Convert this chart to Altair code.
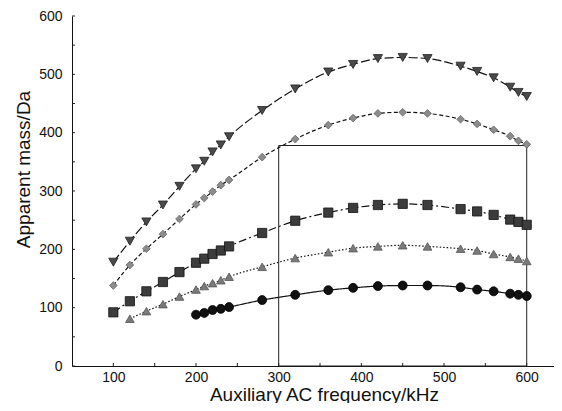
import altair as alt
import pandas as pd

# Auxiliary AC frequency (kHz)
freq_all = [100, 120, 140, 160, 180, 200, 210, 220, 230, 240, 280, 320, 360,
            390, 420, 450, 480, 520, 540, 560, 580, 590, 600]

tri_down = [178, 214, 247, 276, 308, 338, 351, 367, 379, 393, 438, 475, 504,
            517, 527, 529, 527, 514, 505, 494, 478, 469, 462]
diamond = [138, 173, 201, 226, 252, 277, 288, 299, 310, 319, 358, 389, 413,
           425, 433, 435, 433, 423, 415, 405, 394, 386, 380]
square = [92, 111, 128, 144, 161, 177, 184, 192, 198, 205, 228, 249, 263,
          271, 276, 278, 276, 269, 265, 259, 251, 247, 242]
freq_tri_up = freq_all[1:]
tri_up = [81, 94, 106, 119, 131, 137, 142, 147, 153, 170, 185, 195,
          202, 205, 207, 205, 201, 198, 192, 187, 184, 180]
freq_circle = freq_all[5:]
circle = [88, 91, 96, 98, 101, 113, 122, 130, 134, 137, 138, 138, 135, 131,
          128, 124, 122, 120]

box_x = [300, 600]
box_y = [0, 378]

x_ticks = [100, 200, 300, 400, 500, 600]
x_minor = [150, 250, 350, 450, 550]
y_ticks = [0, 100, 200, 300, 400, 500, 600]
y_minor = [50, 150, 250, 350, 450, 550]

FONT = "Liberation Sans"
xs = alt.Scale(domain=[50, 633], nice=False, zero=False)
ys = alt.Scale(domain=[0, 600], nice=False)

series = [
    (freq_all, tri_down, "triangle-down", "#4a4a4a", "#222222", [9, 3], 85),
    (freq_all, diamond, "diamond", "#8c8c8c", "#666666", [4, 2.5], 60),
    (freq_all, square, "square", "#3c3c3c", "#111111", [8, 3, 2, 3], 85),
    (freq_tri_up, tri_up, "triangle-up", "#7a7a7a", "#555555", [1.5, 2], 75),
    (freq_circle, circle, "circle", "#111111", "#000000", [1, 0], 80),
]

layers = []

box_df = pd.DataFrame({"x": [box_x[0]], "x2": [box_x[1]], "y": [box_y[0]], "y2": [box_y[1]]})
layers.append(
    alt.Chart(box_df).mark_rect(fill=None, stroke="#222222", strokeWidth=1).encode(
        x=alt.X("x:Q", scale=xs, axis=alt.Axis(
            title="Auxiliary AC frequency/kHz", values=x_ticks, tickSize=0,
            labelPadding=4, titleX=252, titleY=34, titleBaseline="alphabetic",
            titleAnchor="start", titleAlign="center")),
        x2="x2:Q",
        y=alt.Y("y:Q", scale=ys, axis=alt.Axis(
            title="Apparent mass/Da", values=y_ticks, tickSize=0,
            labelPadding=10, titleX=-43, titleY=153, titleBaseline="alphabetic",
            titleAngle=-90, titleAlign="center")),
        y2="y2:Q",
    )
)

for fx, fy, shape, fill, stroke, dash, size in series:
    df = pd.DataFrame({"f": fx, "m": fy})
    base = alt.Chart(df).encode(x=alt.X("f:Q", scale=xs), y=alt.Y("m:Q", scale=ys))
    layers.append(base.mark_line(color="#111111", strokeWidth=1.2,
                                 strokeDash=dash, interpolate="monotone"))
    layers.append(base.mark_point(shape=shape, filled=True, fill=fill,
                                  stroke=stroke, strokeWidth=0.8, opacity=1,
                                  size=size))

# inward tick marks
ytk = pd.DataFrame({"v": y_ticks + y_minor})
layers.append(alt.Chart(ytk).mark_rule(color="#222222", strokeWidth=1).encode(
    y=alt.Y("v:Q", scale=ys), x=alt.value(0), x2=alt.value(3)))
xtk = pd.DataFrame({"v": x_ticks + x_minor})
layers.append(alt.Chart(xtk).mark_rule(color="#222222", strokeWidth=1).encode(
    x=alt.X("v:Q", scale=xs), y=alt.value(350), y2=alt.value(347)))

chart = alt.layer(*layers).properties(
    width=482, height=350,
    autosize=alt.AutoSizeParams(type="none"),
    padding={"left": 64, "top": 8, "right": 0, "bottom": 37},
).configure_view(stroke=None).configure_axis(
    grid=False, domainColor="#111111", domainWidth=1,
    labelFont=FONT, labelFontSize=14, labelColor="#111111",
    titleFont=FONT, titleFontSize=19, titleFontWeight="normal", titleColor="#111111",
)

chart.save("out.html", embed_options={"renderer": "svg", "actions": False})
